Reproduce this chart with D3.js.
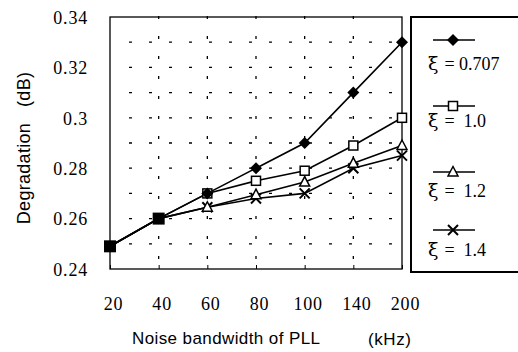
<!DOCTYPE html>
<html><head><meta charset="utf-8">
<script src="https://cdn.jsdelivr.net/npm/d3@7"></script>
<style>body{margin:0;background:#fff}svg{display:block}</style>
</head><body>
<svg id="c" width="518" height="352"></svg>
<script>
const categories = ["20","40","60","80","100","140","200"];
const xi0707 = [0.249,0.26,0.27,0.28,0.29,0.31,0.33];
const xi10   = [0.249,0.26,0.27,0.275,0.279,0.289,0.30];
const xi12   = [0.249,0.26,0.2645,0.2695,0.2745,0.282,0.289];
const xi14   = [0.249,0.26,0.2645,0.268,0.27,0.28,0.285];
const seriesNames = ["0.707","1.0","1.2","1.4"];
const yTicks = [0.24,0.26,0.28,0.3,0.32,0.34];
const yTickLabels = ["0.24","0.26","0.28","0.3","0.32","0.34"];

const svg = d3.select("#c");
const L=110,R=402,T=17,B=269;
const x = d3.scalePoint().domain(categories).range([L,R]);
const y = d3.scaleLinear().domain([0.24,0.34]).range([B,T]);

// grid
const grid = svg.append("g").attr("stroke","#000").attr("stroke-width",1.3).attr("stroke-dasharray","3,17");
d3.range(0.25,0.335,0.01).forEach(v=>{
  grid.append("line").attr("x1",L+19).attr("x2",R-4).attr("y1",y(v)).attr("y2",y(v));
});
categories.slice(1,-1).forEach(c=>{
  grid.append("line").attr("x1",x(c)).attr("x2",x(c)).attr("y1",T-1).attr("y2",B);
});
// frame
svg.append("rect").attr("x",L).attr("y",T).attr("width",R-L).attr("height",B-T)
  .attr("fill","none").attr("stroke","#000").attr("stroke-width",1.3);

// axes
const yAxis = d3.axisLeft(y).tickValues(yTicks).tickFormat((d,i)=>yTickLabels[i]).tickSize(0).tickPadding(22);
const ga = svg.append("g").attr("transform",`translate(${L},0)`).call(yAxis);
ga.select(".domain").remove();
ga.selectAll("text").attr("font-family","Liberation Serif").attr("font-size",18).attr("letter-spacing","0.8px").attr("fill","#000").attr("dy","0.35em");

const xAxis = d3.axisBottom(x).tickSize(-4).tickPadding(28);
const gx = svg.append("g").attr("transform",`translate(0,${B})`).call(xAxis);
gx.select(".domain").remove();
gx.selectAll("line").attr("stroke","#000");
gx.selectAll("text").attr("font-family","Liberation Serif").attr("font-size",18).attr("letter-spacing","0.8px").attr("fill","#000").attr("dx","3");

// titles
svg.append("text").attr("x",L+22).attr("y",344).attr("font-family","Liberation Sans")
  .attr("font-size",17).attr("letter-spacing","0.4px").text("Noise bandwidth of PLL");
svg.append("text").attr("x",368).attr("y",345).attr("font-family","Liberation Sans")
  .attr("font-size",17).attr("letter-spacing","0.6px").text("(kHz)");
svg.append("text").attr("transform","translate(30,148) rotate(-90)").attr("text-anchor","middle")
  .attr("font-family","Liberation Sans").attr("font-size",18).attr("letter-spacing","0.3px").attr("xml:space","preserve").text("Degradation   (dB)");

// markers
function marker(g, type, cx, cy){
  if(type===0){
    g.append("path").attr("d",`M${cx},${cy-6}L${cx+6},${cy}L${cx},${cy+6}L${cx-6},${cy}Z`).attr("fill","#000");
  } else if(type===1){
    g.append("rect").attr("x",cx-4.5).attr("y",cy-4.5).attr("width",9).attr("height",9)
      .attr("fill","#fff").attr("stroke","#000").attr("stroke-width",1.5);
  } else if(type===2){
    g.append("path").attr("d",`M${cx},${cy-5.5}L${cx+5},${cy+4}L${cx-5},${cy+4}Z`)
      .attr("fill","#fff").attr("stroke","#000").attr("stroke-width",1.5);
  } else {
    g.append("path").attr("d",`M${cx-5},${cy-5}L${cx+5},${cy+5}M${cx-5},${cy+5}L${cx+5},${cy-5}`)
      .attr("stroke","#000").attr("stroke-width",2);
  }
}
const allSeries = [xi0707,xi10,xi12,xi14];
const line = d3.line().x((d,i)=>x(categories[i])).y(d=>y(d));
const gl = svg.append("g");
[3,2,1,0].forEach(s=>{
  gl.append("path").attr("d",line(allSeries[s])).attr("fill","none").attr("stroke","#000").attr("stroke-width",1.6);
});
[3,2,1,0].forEach(s=>{
  allSeries[s].forEach((v,i)=>{ if(i>=2) marker(gl,s,x(categories[i]),y(v)); });
});
// shared points at 20 and 40
[0,1].forEach(i=>{
  gl.append("rect").attr("x",x(categories[i])-6).attr("y",y(xi0707[i])-6).attr("width",12).attr("height",12).attr("fill","#000");
});

// legend
svg.append("rect").attr("x",411).attr("y",17).attr("width",120).attr("height",255)
  .attr("fill","none").attr("stroke","#000").attr("stroke-width",2);
const legLineY=[40,106,172,230], legTextY=[70,127,197,256];
seriesNames.forEach((n,s)=>{
  svg.append("line").attr("x1",433).attr("x2",475).attr("y1",legLineY[s]).attr("y2",legLineY[s]).attr("stroke","#000").attr("stroke-width",1.5);
  marker(svg,s,453,legLineY[s]);
  const t = svg.append("text").attr("x",428).attr("y",legTextY[s]).attr("font-family","Liberation Serif").attr("font-size",18);
  t.append("tspan").attr("font-family","DejaVu Serif").attr("font-size",19).text("ξ");
  t.append("tspan").attr("dx",6).attr("xml:space","preserve").text(s===0?"= 0.707":"=  "+n);
});
</script>
</body></html>
